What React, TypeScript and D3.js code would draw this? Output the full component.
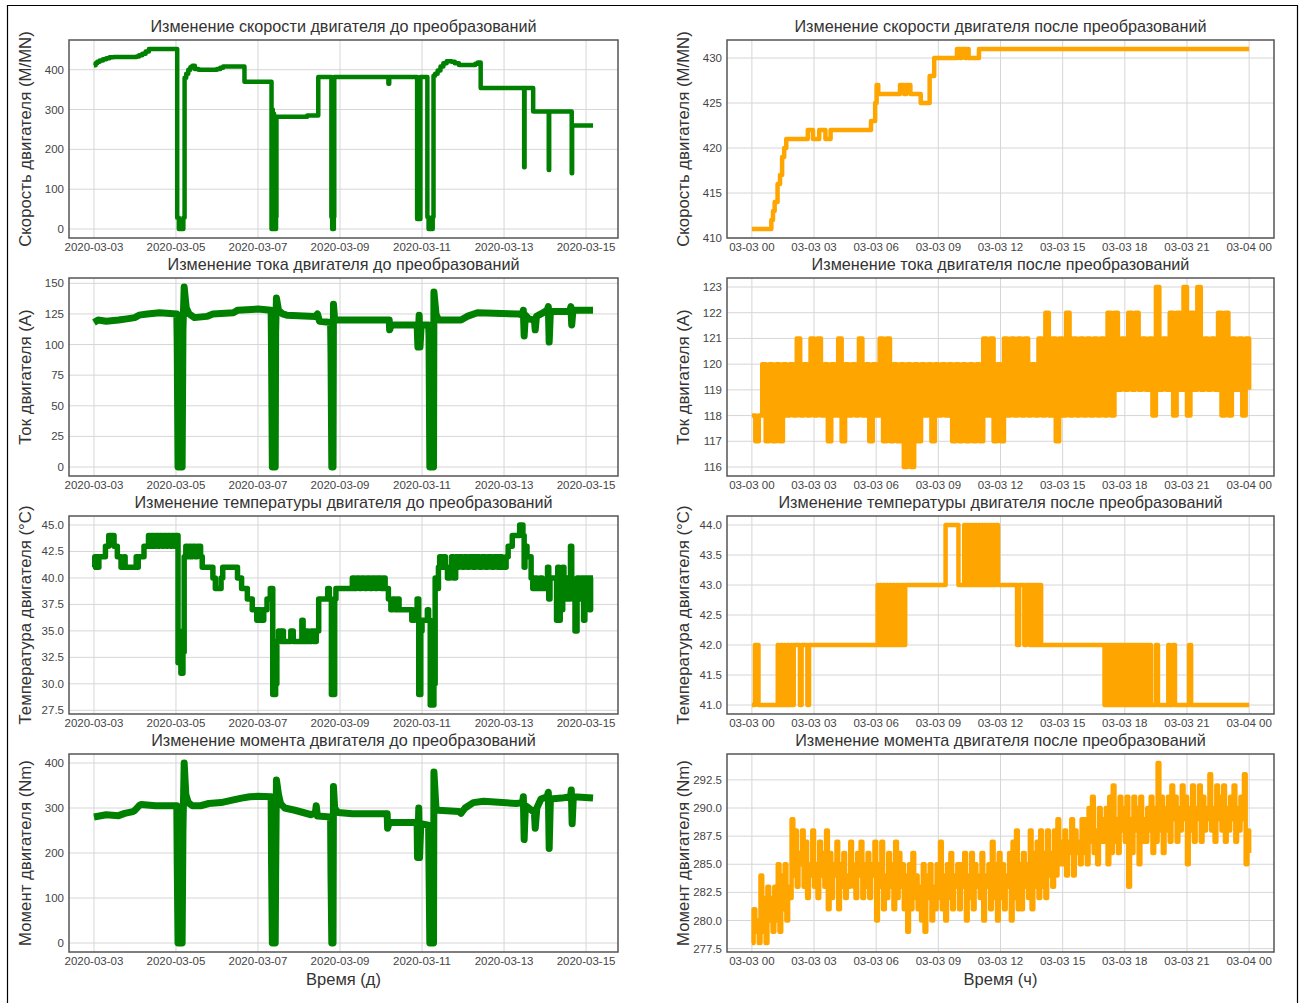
import React from "react";
import * as d3 from "d3";

type Pt = [number, number];

const GREEN = "#008000";
const ORANGE = "#FFA500";
const GRID = "#d6d6d6";
const SPINE = "#555555";
const FONT = '"Liberation Sans", Arial, Helvetica, sans-serif';

// ---- time axes ----
const dayTicks = [0, 2, 4, 6, 8, 10, 12];
const dayTickLabels = ["2020-03-03", "2020-03-05", "2020-03-07", "2020-03-09", "2020-03-11", "2020-03-13", "2020-03-15"];
const hourTicks = [0, 3, 6, 9, 12, 15, 18, 21, 24];
const hourTickLabels = ["03-03 00", "03-03 03", "03-03 06", "03-03 09", "03-03 12", "03-03 15", "03-03 18", "03-03 21", "03-04 00"];
const daysSpan: Pt = [0, 12.17];
const hoursSpan: Pt = [0, 24];
const currentStepMinutes = 10;
const torqueStepMinutes = 5;

// ---- y ticks ----
const speedBeforeTicks = [0, 100, 200, 300, 400];
const speedAfterTicks = [410, 415, 420, 425, 430];
const currentBeforeTicks = [0, 25, 50, 75, 100, 125, 150];
const currentAfterTicks = [116, 117, 118, 119, 120, 121, 122, 123];
const tempBeforeTicks = [27.5, 30, 32.5, 35, 37.5, 40, 42.5, 45];
const tempAfterTicks = [41, 41.5, 42, 42.5, 43, 43.5, 44];
const torqueBeforeTicks = [0, 100, 200, 300, 400];
const torqueAfterTicks = [277.5, 280, 282.5, 285, 287.5, 290, 292.5];

// ---- speed, before (day offset, M/MN) ----
const speedBefore: Pt[] = [
  [0.0, 411], [0.04, 416], [0.08, 420], [0.14, 423], [0.22, 426], [0.3, 429], [0.38, 431], [0.48, 432],
  [1.04, 433], [1.1, 436], [1.18, 440], [1.26, 446], [1.34, 452],
  [2.03, 28], [2.07, 0], [2.18, 28], [2.21, 380], [2.25, 390], [2.3, 400], [2.35, 406], [2.4, 410], [2.46, 402], [2.55, 400], [3.0, 402], [3.08, 405], [3.15, 408],
  [3.67, 370],
  [4.33, 0], [4.35, 300], [4.36, 0], [4.38, 290], [4.39, 28], [4.41, 280], [4.42, 0], [4.44, 30], [4.45, 282], [5.2, 285],
  [5.47, 382], [5.79, 30], [5.8, 380], [5.81, 0], [5.85, 30], [5.86, 382],
  [7.18, 365], [7.2, 382], [7.88, 25], [7.96, 382],
  [8.13, 30], [8.16, 0], [8.26, 30], [8.28, 385], [8.32, 390], [8.38, 398], [8.45, 408], [8.52, 416], [8.6, 421], [8.72, 420], [8.8, 416], [8.9, 412], [9.3, 415], [9.36, 418],
  [9.43, 354], [10.49, 155], [10.5, 354], [10.71, 295], [11.09, 148], [11.1, 295], [11.65, 140], [11.66, 260], [12.17, 260],
];

// ---- speed, after (hour, M/MN) ----
const speedAfter: Pt[] = [
  [0, 411], [0.94, 412], [1.02, 413], [1.1, 414], [1.24, 416], [1.36, 417], [1.46, 419], [1.56, 420], [1.66, 421],
  [2.7, 422], [2.95, 421], [3.25, 422], [3.55, 421], [3.8, 422], [5.75, 423], [5.95, 425], [6.02, 427], [6.1, 426],
  [7.15, 427], [7.35, 426], [7.45, 427], [7.65, 426], [8.15, 425], [8.58, 428], [8.8, 430],
  [9.9, 431], [10.05, 430], [10.12, 431], [10.3, 430], [10.36, 431], [10.46, 430], [10.96, 431], [24, 431],
];

// ---- current, before (day offset, A) ----
const currentBefore: Pt[] = [
  [0, 118], [0.1, 120], [0.3, 119], [0.6, 120], [0.8, 121], [1.0, 122], [1.1, 124], [1.3, 125], [1.6, 126], [2.02, 125],
  [2.03, 100], [2.05, 0], [2.15, 0], [2.17, 112], [2.2, 147], [2.25, 130], [2.32, 125], [2.45, 122], [2.75, 123], [2.9, 125],
  [3.4, 126], [3.5, 128], [4.0, 129], [4.32, 128], [4.33, 95], [4.35, 0], [4.42, 0], [4.43, 110], [4.45, 138], [4.5, 128],
  [4.6, 125], [4.7, 124], [5.4, 123], [5.45, 125], [5.5, 119], [5.77, 118], [5.78, 93], [5.8, 0], [5.83, 0], [5.84, 133],
  [5.87, 120], [7.2, 120], [7.21, 112], [7.25, 116], [7.88, 116], [7.9, 98], [7.93, 124], [7.95, 98], [7.98, 116], [8.16, 116],
  [8.17, 107], [8.19, 0], [8.28, 0], [8.29, 143], [8.34, 125], [8.4, 120], [8.95, 120], [9.1, 123], [9.35, 126], [10.35, 125],
  [10.45, 124], [10.47, 128], [10.49, 107], [10.52, 124], [10.6, 121], [10.74, 120], [10.76, 112], [10.79, 123], [10.9, 125],
  [11.05, 128], [11.08, 131], [11.1, 102], [11.13, 127], [11.6, 127], [11.63, 131], [11.65, 116], [11.68, 128], [12.17, 128],
];

// ---- current, after (A, one reading every 10 min; one row per hour) ----
const currentAfter = [
  118, 117, 118, 120, 117, 120,
  117, 120, 117, 120, 118, 120,
  118, 121, 118, 120, 118, 121,
  118, 121, 118, 120, 117, 120,
  118, 121, 117, 120, 118, 120,
  118, 121, 118, 120, 117, 120,
  118, 121, 117, 121, 117, 120,
  117, 120, 116, 120, 116, 120,
  117, 120, 118, 120, 117, 120,
  118, 120, 118, 120, 117, 120,
  117, 120, 117, 120, 117, 120,
  117, 121, 118, 121, 117, 120,
  117, 121, 118, 121, 118, 121,
  118, 121, 118, 120, 118, 121,
  118, 122, 118, 121, 117, 121,
  118, 122, 118, 121, 118, 121,
  118, 121, 118, 121, 118, 121,
  118, 122, 118, 122, 119, 121,
  119, 122, 119, 122, 119, 121,
  119, 121, 118, 123, 119, 121,
  119, 122, 118, 122, 119, 123,
  118, 122, 119, 123, 119, 121,
  119, 121, 119, 122, 118, 122,
  118, 121, 119, 121, 118, 121,
  119,
];

// ---- temperature, before (day offset, °C) ----
const tempBefore: Pt[] = [
  [0, 41], [0.02, 42], [0.04, 41], [0.07, 42], [0.09, 41], [0.12, 42], [0.28, 43], [0.36, 44], [0.49, 43], [0.57, 42], [0.66, 41],
  [0.74, 42], [0.76, 41], [1.03, 42], [1.05, 41], [1.08, 42], [1.22, 43],
  [1.33, 44], [1.37, 43], [1.41, 44], [1.46, 43], [1.5, 44], [1.56, 43], [1.6, 44], [1.66, 43], [1.7, 44], [1.76, 43], [1.8, 44],
  [1.86, 43], [1.9, 44], [1.96, 43], [2.0, 44],
  [2.05, 32], [2.07, 35], [2.09, 32], [2.12, 31], [2.17, 33], [2.2, 42], [2.24, 43], [2.28, 42], [2.32, 43], [2.37, 42], [2.41, 43],
  [2.47, 42], [2.52, 43], [2.6, 42], [2.64, 41], [2.9, 40], [2.96, 39], [3.1, 40], [3.14, 41], [3.5, 40], [3.6, 39], [3.74, 38],
  [3.86, 37], [3.97, 36], [4.03, 37], [4.07, 36], [4.14, 37], [4.22, 38], [4.3, 39],
  [4.36, 29], [4.43, 30], [4.46, 34], [4.5, 35], [4.56, 34], [4.58, 35], [4.62, 34], [4.8, 35], [4.86, 34], [5.07, 36], [5.1, 34],
  [5.18, 35], [5.22, 34], [5.3, 35], [5.36, 34], [5.42, 35], [5.48, 38], [5.7, 39], [5.74, 38],
  [5.79, 29], [5.87, 38], [5.9, 39], [6.3, 40], [6.35, 39], [6.4, 40], [6.47, 39], [6.52, 40], [6.6, 39], [6.65, 40], [6.73, 39],
  [6.78, 40], [6.86, 39], [6.9, 40], [7.0, 39], [7.05, 40], [7.1, 39], [7.18, 38], [7.24, 37], [7.28, 38], [7.34, 37], [7.4, 38],
  [7.44, 37], [7.75, 36], [7.82, 37], [7.88, 38],
  [7.92, 29], [7.97, 35], [8.0, 36], [8.13, 37], [8.16, 36],
  [8.2, 28], [8.29, 30], [8.32, 40], [8.36, 39], [8.4, 41], [8.43, 42], [8.48, 41], [8.52, 42], [8.57, 41], [8.62, 40], [8.68, 41],
  [8.72, 42], [8.77, 40], [8.82, 42], [8.86, 41], [8.9, 42], [8.98, 41], [9.03, 42], [9.1, 41], [9.15, 42], [9.24, 41], [9.3, 42],
  [9.4, 41], [9.45, 42], [9.55, 41], [9.6, 42], [9.7, 41], [9.75, 42], [9.84, 41], [9.9, 42], [9.95, 41], [10.05, 42], [10.1, 43],
  [10.2, 44], [10.38, 45], [10.46, 44], [10.49, 41], [10.51, 43], [10.56, 42], [10.66, 40], [10.7, 39], [10.76, 40], [10.8, 39],
  [10.88, 40], [10.93, 39], [11.06, 41], [11.09, 38], [11.12, 40], [11.28, 36], [11.31, 41], [11.34, 36], [11.37, 40], [11.4, 37],
  [11.43, 41], [11.46, 38], [11.5, 40], [11.55, 38], [11.62, 43], [11.65, 39], [11.73, 35], [11.78, 40], [11.84, 38], [11.88, 40],
  [11.94, 36], [11.97, 40], [12.08, 37], [12.11, 40], [12.17, 40],
];

// ---- temperature, after (hour, °C) ----
const tempAfter: Pt[] = [
  [0, 41], [0.15, 42], [0.32, 41], [1.25, 42], [1.3, 41], [1.4, 42], [1.46, 41], [1.55, 42], [1.6, 41], [1.7, 42], [1.76, 41],
  [1.88, 42], [1.94, 41], [2.02, 42], [2.32, 41], [2.4, 42], [2.68, 41], [2.76, 42],
  [6.07, 43], [6.12, 42], [6.2, 43], [6.26, 42], [6.35, 43], [6.41, 42], [6.5, 43], [6.56, 42], [6.65, 43], [6.71, 42], [6.8, 43],
  [6.86, 42], [6.95, 43], [7.01, 42], [7.1, 43], [7.16, 42], [7.25, 43], [7.31, 42], [7.4, 43],
  [9.35, 44], [9.97, 43], [10.25, 44], [10.3, 43], [10.38, 44], [10.44, 43], [10.52, 44], [10.58, 43], [10.66, 44], [10.72, 43],
  [10.8, 44], [10.86, 43], [10.94, 44], [11.0, 43], [11.08, 44], [11.14, 43], [11.22, 44], [11.28, 43], [11.36, 44], [11.42, 43],
  [11.5, 44], [11.56, 43], [11.64, 44], [11.7, 43], [11.78, 44], [11.88, 43],
  [12.8, 42], [12.9, 43], [13.15, 42], [13.24, 43], [13.42, 42], [13.48, 43], [13.56, 42], [13.62, 43], [13.7, 42], [13.76, 43],
  [13.84, 42], [13.9, 43], [13.96, 42],
  [17.02, 41], [17.08, 42], [17.16, 41], [17.22, 42], [17.3, 41], [17.36, 42], [17.44, 41], [17.5, 42], [17.58, 41], [17.64, 42],
  [17.72, 41], [17.78, 42], [17.86, 41], [17.92, 42], [18.0, 41], [18.06, 42], [18.14, 41], [18.2, 42], [18.28, 41], [18.34, 42],
  [18.42, 41], [18.48, 42], [18.56, 41], [18.62, 42], [18.7, 41], [18.76, 42], [18.84, 41], [18.9, 42], [18.98, 41], [19.04, 42],
  [19.12, 41], [19.18, 42], [19.26, 41], [19.5, 42], [19.6, 41], [20.1, 42], [20.18, 41], [20.32, 42], [20.42, 41], [21.1, 42],
  [21.2, 41], [24, 41],
];

// ---- torque, before (day offset, Nm) ----
const torqueBefore: Pt[] = [
  [0, 280], [0.3, 285], [0.6, 283], [0.75, 288], [0.95, 292], [1.0, 295], [1.05, 300], [1.1, 305], [1.15, 308], [1.5, 305],
  [2.02, 305], [2.03, 180], [2.05, 0], [2.15, 0], [2.17, 250], [2.2, 400], [2.24, 330], [2.3, 312], [2.4, 305], [2.6, 305],
  [2.8, 310], [3.1, 312], [3.4, 318], [3.6, 322], [3.8, 325], [4.0, 326], [4.32, 325], [4.33, 180], [4.35, 0], [4.42, 0],
  [4.43, 150], [4.45, 362], [4.5, 330], [4.55, 310], [4.65, 300], [4.9, 295], [5.1, 290], [5.3, 285], [5.4, 290], [5.42, 305],
  [5.45, 282], [5.77, 280], [5.78, 150], [5.8, 0], [5.83, 0], [5.84, 348], [5.87, 300], [5.95, 290], [6.3, 287], [7.15, 287],
  [7.16, 255], [7.2, 268], [7.88, 268], [7.89, 190], [7.92, 300], [7.94, 190], [7.97, 265], [8.16, 262], [8.17, 165], [8.19, 0],
  [8.28, 0], [8.29, 380], [8.34, 300], [8.4, 295], [8.9, 292], [8.95, 288], [9.05, 300], [9.25, 312], [9.5, 315], [10.3, 310],
  [10.45, 312], [10.47, 325], [10.49, 230], [10.52, 305], [10.6, 300], [10.74, 290], [10.76, 255], [10.8, 300], [10.9, 320],
  [11.05, 325], [11.08, 335], [11.1, 210], [11.13, 320], [11.4, 322], [11.62, 325], [11.64, 340], [11.66, 265], [11.69, 325],
  [12.17, 322],
];

// ---- torque, after (Nm, one reading every 5 min; one row per hour) ----
const torqueAfter = [
  278, 281, 279, 280, 278, 284, 279, 282, 278, 283, 280, 282,
  279, 283, 280, 285, 279, 284, 281, 285, 280, 283, 282, 289,
  284, 288, 283, 286, 285, 288, 283, 287, 282, 285, 284, 288,
  283, 285, 282, 287, 284, 286, 283, 288, 281, 286, 282, 285,
  284, 287, 281, 285, 283, 286, 282, 284, 283, 287, 285, 283,
  282, 286, 284, 287, 282, 285, 283, 286, 282, 285, 284, 287,
  280, 285, 283, 287, 281, 284, 282, 286, 283, 285, 281, 287,
  282, 286, 283, 285, 281, 284, 279, 285, 281, 286, 282, 284,
  281, 283, 280, 285, 279, 284, 282, 285, 280, 283, 281, 285,
  282, 287, 281, 284, 280, 285, 282, 286, 281, 284, 283, 285,
  281, 285, 283, 286, 280, 284, 282, 286, 281, 285, 283, 284,
  282, 286, 280, 284, 283, 285, 281, 287, 282, 285, 280, 286,
  282, 285, 281, 284, 283, 286, 280, 287, 282, 288, 281, 285,
  281, 286, 283, 285, 282, 288, 281, 286, 283, 287, 282, 288,
  283, 286, 282, 288, 284, 286, 283, 288, 284, 289, 285, 287,
  285, 288, 284, 287, 286, 289, 284, 288, 286, 287, 285, 289,
  286, 289, 285, 290, 287, 291, 286, 288, 285, 290, 287, 289,
  287, 290, 285, 291, 286, 292, 287, 289, 286, 291, 288, 290,
  287, 291, 283, 289, 286, 291, 288, 290, 285, 291, 287, 289,
  287, 290, 288, 291, 286, 290, 287, 294, 288, 291, 286, 290,
  288, 291, 287, 292, 289, 291, 287, 290, 288, 292, 289, 291,
  285, 290, 288, 292, 287, 290, 289, 292, 287, 291, 288, 290,
  289, 293, 288, 290, 287, 292, 289, 291, 288, 292, 287, 290,
  288, 291, 289, 292, 287, 290, 288, 291, 289, 293, 285, 288,
  286,
];

const sampled = (vals: number[], stepMinutes: number): Pt[] => vals.map((v, i) => [(i * stepMinutes) / 60, v]);

// matplotlib-style 5% data margins
const padded = (lo: number, hi: number): Pt => {
  const m = (hi - lo) * 0.05;
  return [lo - m, hi + m];
};
const yExtent = (pts: Pt[]): Pt => {
  const e = d3.extent(pts, (d) => d[1]) as Pt;
  return padded(e[0], e[1]);
};

interface PanelProps {
  left: number;
  top: number;
  width: number;
  height: number;
  title: string;
  ylabel: string;
  xlabel?: string;
  xSpan: Pt;
  xTicks: number[];
  xTickLabels: string[];
  yTicks: number[];
  yFmt: (v: number) => string;
  data: Pt[];
  curve: d3.CurveFactory;
  color: string;
  strokeWidth: number;
}

function Panel(p: PanelProps) {
  const x = d3.scaleLinear().domain(padded(p.xSpan[0], p.xSpan[1])).range([p.left, p.left + p.width]);
  const y = d3.scaleLinear().domain(yExtent(p.data)).range([p.top + p.height, p.top]);
  const line = d3
    .line<Pt>()
    .x((d) => x(d[0]))
    .y((d) => y(d[1]))
    .curve(p.curve);
  const cx = p.left + p.width / 2;
  const cy = p.top + p.height / 2;
  const clipId = `clip-${p.left}-${p.top}`;
  return (
    <g>
      <defs>
        <clipPath id={clipId}>
          <rect x={p.left} y={p.top} width={p.width} height={p.height} />
        </clipPath>
      </defs>
      {p.yTicks.map((v) => (
        <line key={`gy${v}`} x1={p.left} x2={p.left + p.width} y1={y(v)} y2={y(v)} stroke={GRID} strokeWidth={1} />
      ))}
      {p.xTicks.map((v) => (
        <line key={`gx${v}`} x1={x(v)} x2={x(v)} y1={p.top} y2={p.top + p.height} stroke={GRID} strokeWidth={1} />
      ))}
      <path
        d={line(p.data) || ""}
        fill="none"
        stroke={p.color}
        strokeWidth={p.strokeWidth}
        strokeLinejoin="round"
        clipPath={`url(#${clipId})`}
      />
      <rect x={p.left} y={p.top} width={p.width} height={p.height} fill="none" stroke={SPINE} strokeWidth={1.5} />
      {p.yTicks.map((v) => (
        <text key={`ty${v}`} x={p.left - 5} y={y(v)} dy="0.35em" textAnchor="end" fontSize={11.5} fill="#444" fontFamily={FONT}>
          {p.yFmt(v)}
        </text>
      ))}
      {p.xTicks.map((v, i) => (
        <text key={`tx${v}`} x={x(v)} y={p.top + p.height + 12.5} textAnchor="middle" fontSize={11.5} fill="#444" fontFamily={FONT}>
          {p.xTickLabels[i]}
        </text>
      ))}
      <text x={cx} y={p.top - 8} textAnchor="middle" fontSize={16.2} fill="#333" fontFamily={FONT}>
        {p.title}
      </text>
      <text
        transform={`translate(${p.left - 38},${cy}) rotate(-90)`}
        textAnchor="middle"
        fontSize={16.8}
        fill="#333"
        fontFamily={FONT}
      >
        {p.ylabel}
      </text>
      {p.xlabel && (
        <text x={cx} y={p.top + p.height + 33} textAnchor="middle" fontSize={16.5} fill="#333" fontFamily={FONT}>
          {p.xlabel}
        </text>
      )}
    </g>
  );
}

const intFmt = d3.format("d");
const oneDec = d3.format(".1f");

export default function App() {
  const L = 69;
  const R = 727;
  const LW = 549;
  const RW = 547;
  const tops = [40, 278, 516, 754];
  const H = 198;
  const before = { left: L, width: LW, xSpan: daysSpan, xTicks: dayTicks, xTickLabels: dayTickLabels, color: GREEN };
  const after = { left: R, width: RW, xSpan: hoursSpan, xTicks: hourTicks, xTickLabels: hourTickLabels, color: ORANGE };
  return (
    <svg width={1304} height={1003} style={{ position: "absolute", left: 0, top: 0, background: "#fff" }}>
      <rect x={0} y={0} width={1304} height={1003} fill="#fff" />
      <path d="M7.5,1010 V5.5 H1297.5 V1010" fill="none" stroke="#000" strokeWidth={1.2} />

      <Panel {...before} top={tops[0]} height={H} title="Изменение скорости двигателя до преобразований"
        ylabel="Скорость двигателя (M/MN)" yTicks={speedBeforeTicks} yFmt={intFmt}
        data={speedBefore} curve={d3.curveStepAfter} strokeWidth={4.5} />
      <Panel {...after} top={tops[0]} height={H} title="Изменение скорости двигателя после преобразований"
        ylabel="Скорость двигателя (M/MN)" yTicks={speedAfterTicks} yFmt={intFmt}
        data={speedAfter} curve={d3.curveStepAfter} strokeWidth={4.5} />

      <Panel {...before} top={tops[1]} height={H} title="Изменение тока двигателя до преобразований"
        ylabel="Ток двигателя (A)" yTicks={currentBeforeTicks} yFmt={intFmt}
        data={currentBefore} curve={d3.curveLinear} strokeWidth={7} />
      <Panel {...after} top={tops[1]} height={H} title="Изменение тока двигателя после преобразований"
        ylabel="Ток двигателя (A)" yTicks={currentAfterTicks} yFmt={intFmt}
        data={sampled(currentAfter, currentStepMinutes)} curve={d3.curveStepAfter} strokeWidth={4.5} />

      <Panel {...before} top={tops[2]} height={H} title="Изменение температуры двигателя до преобразований"
        ylabel="Температура двигателя (°C)" yTicks={tempBeforeTicks} yFmt={oneDec}
        data={tempBefore} curve={d3.curveStepAfter} strokeWidth={5.5} />
      <Panel {...after} top={tops[2]} height={H} title="Изменение температуры двигателя после преобразований"
        ylabel="Температура двигателя (°C)" yTicks={tempAfterTicks} yFmt={oneDec}
        data={tempAfter} curve={d3.curveStepAfter} strokeWidth={4.5} />

      <Panel {...before} top={tops[3]} height={H} title="Изменение момента двигателя до преобразований"
        ylabel="Момент двигателя (Nm)" xlabel="Время (д)" yTicks={torqueBeforeTicks} yFmt={intFmt}
        data={torqueBefore} curve={d3.curveLinear} strokeWidth={7} />
      <Panel {...after} top={tops[3]} height={H} title="Изменение момента двигателя после преобразований"
        ylabel="Момент двигателя (Nm)" xlabel="Время (ч)" yTicks={torqueAfterTicks} yFmt={oneDec}
        data={sampled(torqueAfter, torqueStepMinutes)} curve={d3.curveStepAfter} strokeWidth={4.5} />
    </svg>
  );
}
